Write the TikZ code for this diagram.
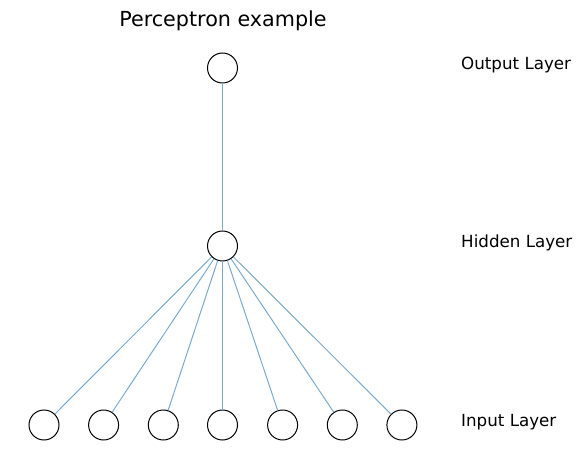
\documentclass[tikz,border=0pt]{standalone}
\usepackage{fontspec}
\setmainfont{DejaVu Sans}
\begin{document}
\begin{tikzpicture}[x=1pt,y=-1pt,
  neuron/.style={circle,draw=black,line width=1pt,minimum size=30pt,inner sep=0pt,fill=white},
  conn/.style={draw={rgb,255:red,118;green,172;blue,212},line width=1pt},
  lbl/.style={anchor=west,inner sep=0pt,font=\fontsize{16.7}{20}\selectfont}]
\useasboundingbox (0,0) rectangle (581,470);
\node[inner sep=0pt,font=\fontsize{20.7}{24}\selectfont] (title) at (223,21) {Perceptron example};
\node[neuron] (o) at (222.5,68) {};
\node[neuron] (h) at (222.5,246) {};
\foreach \i/\x in {1/44,2/103.6,3/163.3,4/222.5,5/282.6,6/342.3,7/401.9}{
  \node[neuron] (i\i) at (\x,425) {};
}
\draw[conn] (o) -- (h);
\foreach \i in {1,...,7}{\draw[conn] (h) -- (i\i);}
\node[lbl] (lo) at (461,65) {Output Layer};
\node[lbl] (lh) at (461,243) {Hidden Layer};
\node[lbl] (li) at (461,422) {Input Layer};
\end{tikzpicture}
\end{document}
